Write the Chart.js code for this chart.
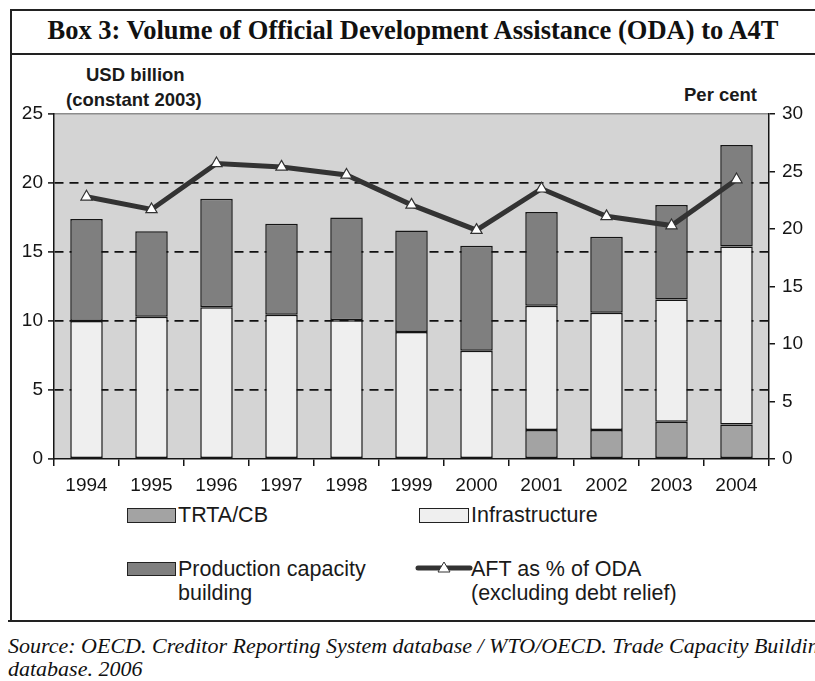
<!DOCTYPE html>
<html lang="en">
<head>
    <meta charset="UTF-8">
    <title>Box 3: Volume of ODA to A4T</title>
    <script src="https://cdn.jsdelivr.net/npm/chart.js"></script>
    <style>
        body {
            margin: 0;
            width: 815px;
            height: 681px;
            overflow: hidden;
            background: #fff;
            position: relative;
            font-family: 'Liberation Sans', Arial, sans-serif;
            color: #1a1a1a;
        }
        .hline, .vline { position: absolute; background: #222; }
        .title {
            position: absolute;
            left: 11px; right: 0; top: 15px;
            text-align: center;
            font: bold 26.5px 'Liberation Serif', 'Times New Roman', serif;
            color: #111;
        }
        .axis-title {
            position: absolute;
            font-weight: bold;
            font-size: 18.5px;
            line-height: 25px;
            color: #1a1a1a;
        }
        #chartBox {
            position: absolute;
            left: 0; top: 0;
            width: 815px; height: 500px;
        }
        .legend-item {
            position: absolute;
            font-size: 21.5px;
            line-height: 24px;
        }
        .swatch {
            position: absolute;
            border: 1.5px solid #222;
            box-sizing: border-box;
        }
        .source {
            position: absolute;
            left: 8px; top: 634px;
            font: italic 22px 'Liberation Serif', 'Times New Roman', serif;
            line-height: 23px;
            white-space: nowrap;
            color: #111;
        }
    </style>
</head>
<body>
    <!-- frame -->
    <div class="hline" style="left:11px; top:9px; width:804px; height:1.5px;"></div>
    <div class="vline" style="left:10px; top:9px; width:1.5px; height:612px;"></div>
    <div class="hline" style="left:11px; top:53px; width:804px; height:1.5px;"></div>
    <div class="hline" style="left:8px; top:620px; width:807px; height:1.5px;"></div>

    <div class="title">Box 3: Volume of Official Development Assistance (ODA) to A4T</div>

    <div class="axis-title" style="left:86px; top:62px;">USD billion</div>
    <div class="axis-title" style="left:66px; top:87px;">(constant 2003)</div>
    <div class="axis-title" style="left:684px; top:82px;">Per cent</div>

    <div id="chartBox"><canvas id="a4tChart"></canvas></div>

    <!-- legend -->
    <div class="swatch" style="left:127px; top:508px; width:49px; height:15px; background:#a3a3a3;"></div>
    <div class="legend-item" style="left:178px; top:503px;">TRTA/CB</div>
    <div class="swatch" style="left:419px; top:508px; width:50px; height:15px; background:#efefef;"></div>
    <div class="legend-item" style="left:471px; top:503px;">Infrastructure</div>
    <div class="swatch" style="left:127px; top:562px; width:49px; height:14px; background:#7f7f7f;"></div>
    <div class="legend-item" style="left:178px; top:557px;">Production capacity<br>building</div>
    <svg style="position:absolute; left:415px; top:560px;" width="58" height="16">
        <line x1="3" y1="8" x2="55" y2="8" stroke="#333" stroke-width="5" stroke-linecap="round"/>
        <polygon points="29,2 35,12 23,12" fill="#fff" stroke="#333" stroke-width="1"/>
    </svg>
    <div class="legend-item" style="left:471px; top:557px;">AFT as % of ODA<br>(excluding debt relief)</div>

    <div class="source">Source: OECD. Creditor Reporting System database / WTO/OECD. Trade Capacity Building<br>database. 2006</div>

    <script>
        // Values (USD billion, constant 2003; line in per cent)
        const years = ['1994', '1995', '1996', '1997', '1998', '1999', '2000', '2001', '2002', '2003', '2004'];
        const trtaCb = [null, null, null, null, null, null, null, 2.1, 2.1, 2.7, 2.5];
        const infrastructure = [10.0, 10.3, 11.0, 10.45, 10.05, 9.2, 7.85, 9.0, 8.5, 8.85, 12.9];
        const productionCapacity = [7.4, 6.2, 7.85, 6.6, 7.45, 7.35, 7.6, 6.8, 5.5, 6.85, 7.35];
        const aftShareOfOda = [22.8, 21.7, 25.7, 25.4, 24.7, 22.1, 19.9, 23.5, 21.1, 20.3, 24.3];

        const tickFont = { family: "'Liberation Sans', Arial, sans-serif", size: 19 };
        const ink = '#151515';

        // grey plot background
        const plotBackground = {
            id: 'plotBackground',
            beforeDraw(chart) {
                const { ctx, chartArea: a } = chart;
                ctx.save();
                ctx.fillStyle = '#d4d4d4';
                ctx.fillRect(a.left, a.top, a.right - a.left, a.bottom - a.top);
                ctx.restore();
            }
        };

        const barStyle = (color) => ({
            backgroundColor: color,
            borderColor: ink,
            borderWidth: 1.5,
            borderSkipped: false,
            barPercentage: 0.5,
            categoryPercentage: 1.0,
            yAxisID: 'y',
            order: 1
        });

        new Chart(document.getElementById('a4tChart'), {
            type: 'bar',
            data: {
                labels: years,
                datasets: [
                    { label: 'AFT as % of ODA (excluding debt relief)', type: 'line', data: aftShareOfOda,
                      yAxisID: 'y2', order: 0, borderColor: '#333', borderWidth: 5,
                      pointStyle: 'triangle', pointRadius: 6.5, pointBackgroundColor: '#fff',
                      pointBorderColor: '#333', pointBorderWidth: 1.2, tension: 0 },
                    { label: 'TRTA/CB', data: trtaCb, ...barStyle('#a3a3a3') },
                    { label: 'Infrastructure', data: infrastructure, ...barStyle('#efefef') },
                    { label: 'Production capacity building', data: productionCapacity, ...barStyle('#7f7f7f') }
                ]
            },
            options: {
                responsive: true,
                maintainAspectRatio: false,
                animation: false,
                layout: { padding: { top: 114, left: 0, right: 0, bottom: 0 } },
                plugins: { legend: { display: false }, tooltip: { enabled: false } },
                scales: {
                    x: {
                        stacked: true,
                        grid: { display: true, drawOnChartArea: false, offset: true, color: ink, lineWidth: 1.5, tickLength: 7 },
                        border: { display: true, color: ink, width: 1.5 },
                        ticks: { font: tickFont, color: ink, padding: 8, maxRotation: 0 },
                        afterFit(scale) { scale.height = 41; }
                    },
                    y: {
                        stacked: true,
                        position: 'left',
                        min: 0, max: 25,
                        ticks: { stepSize: 5, font: tickFont, color: ink, padding: 5 },
                        grid: {
                            color: (c) => (c.tick && c.tick.value > 0 && c.tick.value < 25) ? '#111' : 'rgba(0,0,0,0)',
                            lineWidth: 1.8, tickLength: 6, tickColor: ink, tickWidth: 1.5
                        },
                        border: { display: true, color: ink, width: 1.5, dash: [9, 6] },
                        afterFit(scale) { scale.width = 54; }
                    },
                    y2: {
                        position: 'right',
                        min: 0, max: 30,
                        ticks: { stepSize: 5, font: tickFont, color: ink, padding: 7 },
                        grid: {
                            drawOnChartArea: true,
                            color: (c) => (c.tick && c.tick.value === 30) ? '#8c8c8c' : 'rgba(0,0,0,0)',
                            lineWidth: 1.5, tickLength: 6, tickColor: ink, tickWidth: 1.5
                        },
                        border: { display: true, color: ink, width: 1.5 },
                        afterFit(scale) { scale.width = 46; }
                    }
                }
            },
            plugins: [plotBackground]
        });
    </script>
</body>
</html>
